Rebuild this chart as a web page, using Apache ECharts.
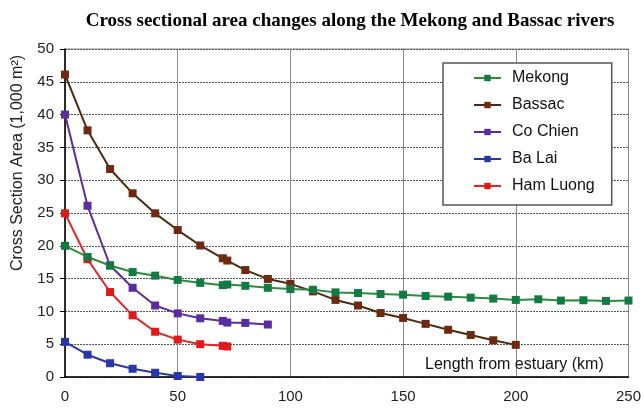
<!DOCTYPE html>
<html><head><meta charset="utf-8">
<script src="https://cdn.jsdelivr.net/npm/echarts@6/dist/echarts.min.js"></script>
<style>html,body{margin:0;padding:0;background:#fff}#c{width:644px;height:410px}</style>
</head><body><div id="c"></div>
<script>
var seriesNames = ['Mekong', 'Bassac', 'Co Chien', 'Ba Lai', 'Ham Luong'];
var mekongX = [0,10,20,30,40,50,60,70,72,80,90,100,110,120,130,140,150,160,170,180,190,200,210,220,230,240,250];
var mekongY = [20,18.3,17,16,15.45,14.8,14.35,14,14.1,13.9,13.6,13.4,13.3,12.9,12.8,12.65,12.55,12.35,12.25,12.1,11.95,11.75,11.85,11.65,11.7,11.6,11.65];
var bassacX = [0,10,20,30,40,50,60,70,72,80,90,100,110,120,130,140,150,160,170,180,190,200];
var bassacY = [46.1,37.6,31.7,28,24.95,22.4,20.05,18.1,17.75,16.3,14.95,14.2,13.05,11.75,10.9,9.75,9,8.1,7.2,6.4,5.6,4.9];
var coChienX = [0,10,20,30,40,50,60,70,72,80,90];
var coChienY = [40,26.1,17,13.6,10.9,9.7,8.95,8.55,8.3,8.25,8];
var baLaiX = [0,10,20,30,40,50,60];
var baLaiY = [5.35,3.4,2.1,1.25,0.65,0.15,0];
var hamLuongX = [0,10,20,30,40,50,60,70,72];
var hamLuongY = [24.95,17.95,12.95,9.4,6.9,5.7,5,4.75,4.65];
var xTicks = [0,50,100,150,200,250];
var yTicks = [0,5,10,15,20,25,30,35,40,45,50];

function pairs(xs, ys){ return xs.map(function(x,i){ return [x, ys[i]]; }); }
var lineColors = ['#2f8a3c', '#4b2a12', '#5b2c9a', '#2b35a0', '#e02525'];
var markColors = ['#147a44', '#6e2a10', '#5a2ca0', '#2a36a8', '#e01a1a'];
var allX = [mekongX, bassacX, coChienX, baLaiX, hamLuongX];
var allY = [mekongY, bassacY, coChienY, baLaiY, hamLuongY];

var series = seriesNames.map(function(n, i){
  return {
    name: n, type: 'line', data: pairs(allX[i], allY[i]),
    symbol: 'rect', symbolSize: 8, showAllSymbol: true,
    lineStyle: {color: lineColors[i], width: 2},
    itemStyle: {color: markColors[i]},
    z: 10 - i
  };
});

var chart = echarts.init(document.getElementById('c'), null, {renderer: 'canvas'});
chart.setOption({
  animation: false,
  backgroundColor: '#fff',
  title: {
    text: 'Cross sectional area changes along the Mekong and Bassac rivers',
    left: 345, top: 7, textAlign: 'center',
    textStyle: {fontFamily: 'Liberation Serif', fontWeight: 'bold', fontSize: 19, color: '#000'}
  },
  grid: {left: 65, right: 14, top: 49, bottom: 33, show: true, borderColor: '#888', borderWidth: 1},
  xAxis: {
    type: 'value', min: 0, max: 250, interval: 50,
    axisLine: {show: true, onZero: false, lineStyle: {color: '#000', width: 1.5}},
    axisTick: {show: false},
    axisLabel: {color: '#222', fontFamily: 'Liberation Sans', fontSize: 15, margin: 12,
      formatter: function(v){ return xTicks.indexOf(v) >= 0 ? String(v) : ''; }},
    splitLine: {show: true, lineStyle: {color: '#8a8a8a', width: 1, type: 'solid'}}
  },
  yAxis: {
    type: 'value', min: 0, max: 50, interval: 5,
    axisLine: {show: true, lineStyle: {color: '#000', width: 1.5}},
    axisTick: {show: true, length: 5, lineStyle: {color: '#000'}},
    axisLabel: {color: '#222', fontFamily: 'Liberation Sans', fontSize: 15, margin: 11,
      formatter: function(v){ return yTicks.indexOf(v) >= 0 ? String(v) : ''; }},
    splitLine: {show: true, lineStyle: {color: '#555', width: 1, type: [2, 1]}}
  },
  legend: {
    data: seriesNames, orient: 'vertical', left: 443, top: 63,
    backgroundColor: '#fff', borderColor: '#555', borderWidth: 1.5, borderRadius: 0,
    padding: [7, 17, 11, 30], itemGap: 11, itemWidth: 27, itemHeight: 8,
    textStyle: {fontFamily: 'Liberation Sans', fontSize: 16, color: '#111', padding: [0, 0, 0, 6]}
  },
  graphic: [{
    type: 'text', left: 425, top: 357, z: 100,
    style: {text: 'Length from estuary (km)', font: '16px "Liberation Sans"', fill: '#111'}
  }, {
    type: 'text', x: 18, y: 163, rotation: Math.PI / 2, z: 100,
    style: {text: 'Cross Section Area (1,000 m²)', font: '16px "Liberation Sans"', fill: '#222',
      textAlign: 'center', textVerticalAlign: 'middle'}
  }],
  series: series
});
</script></body></html>
